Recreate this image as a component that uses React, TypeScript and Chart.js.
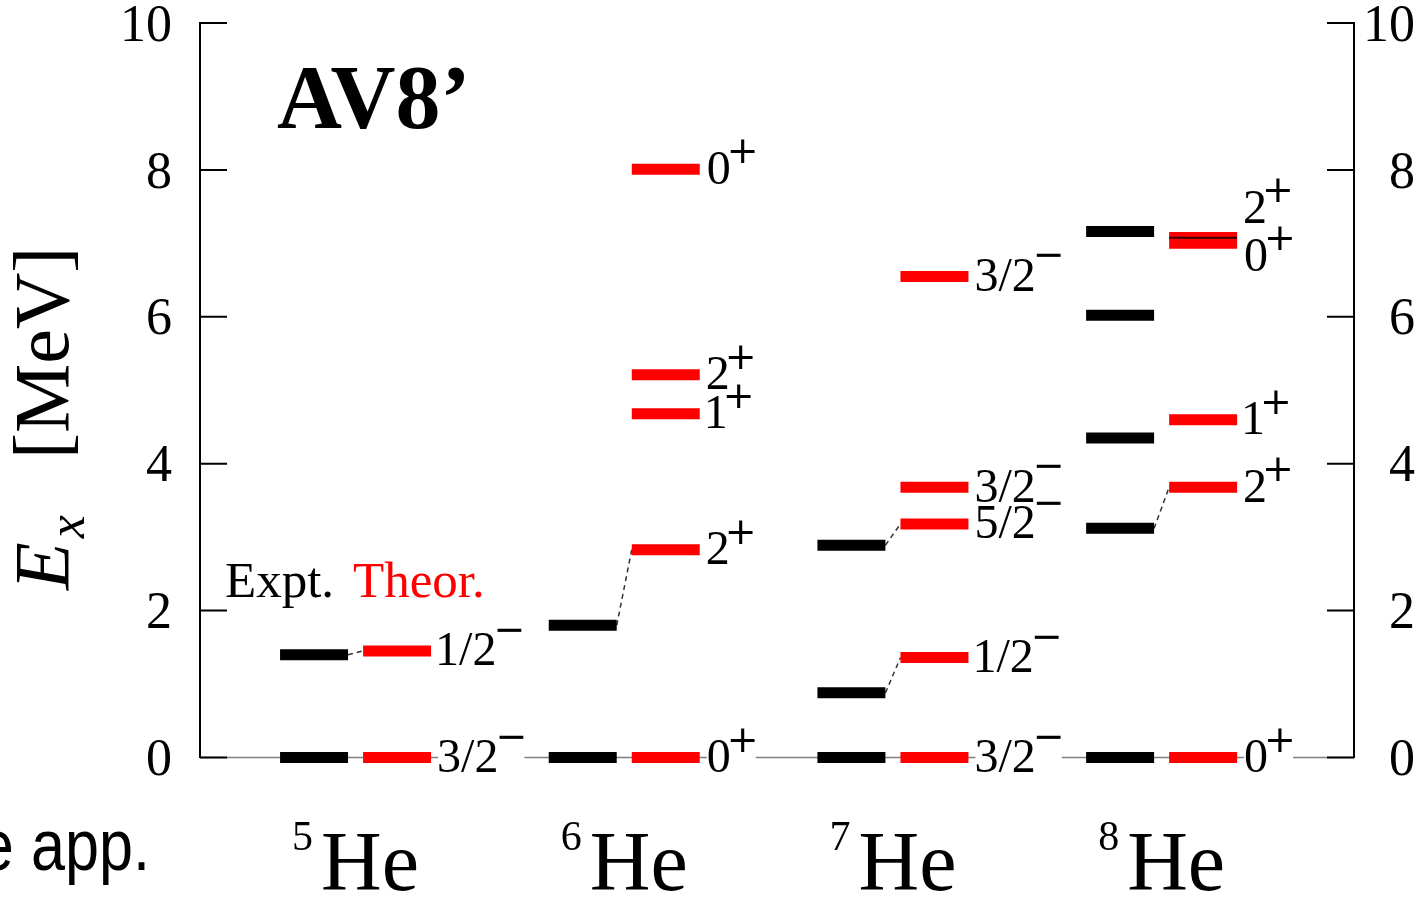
import React, { useEffect, useRef } from 'react';
import { Chart, registerables } from 'chart.js';

Chart.register(...registerables);

// Helium isotopes (mass numbers) shown left to right
const massNumbers = ['5', '6', '7', '8'];
const elementSymbol = 'He';

// Experimental excitation energies [MeV]
const exptLevels: number[][] = [
  [0, 1.4],
  [0, 1.8],
  [0, 0.88, 2.89],
  [0, 3.12, 4.35, 6.02, 7.16],
];

// Calculated (AV8') excitation energies [MeV]
const theoLevels: number[][] = [
  [0, 1.45],
  [0, 2.83, 4.68, 5.21, 8.01],
  [0, 1.36, 3.18, 3.68, 6.55],
  [0, 3.68, 4.6, 7.0, 7.08],
];

// Spin-parity assignments of the calculated levels
const theoSpins: string[][] = [
  ['3/2-', '1/2-'],
  ['0+', '2+', '1+', '2+', '0+'],
  ['3/2-', '1/2-', '5/2-', '3/2-', '3/2-'],
  ['0+', '2+', '1+', '0+', '2+'],
];

// [expt index, theo index] pairs joined by a dashed correspondence line
const links: number[][][] = [
  [[1, 1]],
  [[1, 1]],
  [[1, 1], [2, 2]],
  [[1, 1]],
];

// vertical nudge (px) of spin labels that would otherwise collide
const spinLabelShift: number[][] = [
  [0, 0],
  [0, 0, 0, 0, 0],
  [0, 0, 0, 0, 0],
  [0, 0, 0, 13, -29],
];

const yTicks = [0, 2, 4, 6, 8, 10];
const Y_MIN = 0;
const Y_MAX = 10;

// horizontal layout of one nucleus column, in column units
const EXPT_X = [0.298, 0.551];
const THEO_X = [0.607, 0.86];
const X_MAX = 4.295;
const BAR_WIDTH = 11;

const SERIF = '"Liberation Serif", "Times New Roman", serif';
const SIGN_FONT = '38px "DejaVu Sans", sans-serif';

type Pt = { x: number; y: number | null };

function levelSegments(levels: number[][], xr: number[]): Pt[] {
  const pts: Pt[] = [];
  levels.forEach((lv, i) => {
    lv.forEach((e) => {
      pts.push({ x: i + xr[0], y: e }, { x: i + xr[1], y: e }, { x: i + xr[1], y: null });
    });
  });
  return pts;
}

function linkSegments(): Pt[] {
  const pts: Pt[] = [];
  links.forEach((pairs, i) => {
    pairs.forEach(([a, b]) => {
      pts.push(
        { x: i + EXPT_X[1], y: exptLevels[i][a] },
        { x: i + THEO_X[0], y: theoLevels[i][b] },
        { x: i + THEO_X[0], y: null }
      );
    });
  });
  return pts;
}

type SpinLayout = {
  main: string;
  sign: string;
  x: number;
  base: number;
  sx: number;
  sBase: number;
  left: number;
  right: number;
  yc: number;
};

function layoutSpin(ctx: CanvasRenderingContext2D, inkLeft: number, yc: number, spin: string): SpinLayout {
  const main = spin.slice(0, -1);
  const sign = spin.endsWith('+') ? '+' : '\u2212';
  ctx.font = `48px ${SERIF}`;
  const m = ctx.measureText(main);
  const d = ctx.measureText('0');
  const x = inkLeft + m.actualBoundingBoxLeft;
  const base = yc - 1.5 + (d.actualBoundingBoxAscent - d.actualBoundingBoxDescent) / 2;
  const mainRight = x + m.actualBoundingBoxRight;

  ctx.font = SIGN_FONT;
  const s = ctx.measureText(sign);
  const gap = sign === '+' ? 1 : 3;
  const sx = mainRight + gap + s.actualBoundingBoxLeft;
  const sc = yc + (sign === '+' ? -18 : -21);
  const sBase = sc + (s.actualBoundingBoxAscent - s.actualBoundingBoxDescent) / 2;
  const right = sx + s.actualBoundingBoxRight;
  return { main, sign, x, base, sx, sBase, left: inkLeft, right, yc };
}

const levelSchemePlugin = {
  id: 'levelScheme',
  afterDatasetsDraw(chart: any) {
    const ctx: CanvasRenderingContext2D = chart.ctx;
    const xs = chart.scales.x;
    const ys = chart.scales.y;
    ctx.save();

    // seam between two nearly degenerate calculated levels
    theoLevels.forEach((lv, i) => {
      for (let a = 0; a < lv.length; a++) {
        for (let b = 0; b < lv.length; b++) {
          if (a !== b && lv[a] < lv[b] && lv[b] - lv[a] < 0.15) {
            const p = ys.getPixelForValue(lv[a]) - BAR_WIDTH / 2;
            ctx.strokeStyle = '#3a0000';
            ctx.lineWidth = 2;
            ctx.beginPath();
            ctx.moveTo(xs.getPixelForValue(i + THEO_X[0]), p);
            ctx.lineTo(xs.getPixelForValue(i + THEO_X[1]), p);
            ctx.stroke();
          }
        }
      }
    });

    // spin-parity labels of the calculated levels
    const items: SpinLayout[] = [];
    theoLevels.forEach((lv, i) => {
      const left = xs.getPixelForValue(i + THEO_X[1]) + 8;
      lv.forEach((e, k) => {
        items.push(layoutSpin(ctx, left, ys.getPixelForValue(e) + spinLabelShift[i][k], theoSpins[i][k]));
      });
    });
    // white backing so the ground-state line breaks around the text
    ctx.fillStyle = '#ffffff';
    items.forEach((it) => ctx.fillRect(it.left - 1, it.yc - 30, it.right - it.left + 2, 52));
    ctx.fillStyle = '#000000';
    ctx.textAlign = 'left';
    ctx.textBaseline = 'alphabetic';
    items.forEach((it) => {
      ctx.font = `48px ${SERIF}`;
      ctx.fillText(it.main, it.x, it.base);
      ctx.font = SIGN_FONT;
      ctx.fillText(it.sign, it.sx, it.sBase);
    });
    ctx.restore();
  },
  afterDraw(chart: any) {
    const ctx: CanvasRenderingContext2D = chart.ctx;
    const xs = chart.scales.x;
    const ys = chart.scales.y;
    const area = chart.chartArea;
    ctx.save();

    // inward tick marks on both vertical axes
    ctx.strokeStyle = '#000000';
    ctx.lineWidth = 2;
    yTicks.forEach((v) => {
      const p = ys.getPixelForValue(v);
      ctx.beginPath();
      ctx.moveTo(area.left, p);
      ctx.lineTo(area.left + 27, p);
      ctx.moveTo(area.right - 27, p);
      ctx.lineTo(area.right, p);
      ctx.stroke();
    });

    ctx.textBaseline = 'alphabetic';
    ctx.textAlign = 'left';

    // interaction name
    ctx.fillStyle = '#000000';
    ctx.font = `bold 90px ${SERIF}`;
    ctx.fillText('AV8\u2019', 277, 128);

    // legend
    ctx.font = `51px ${SERIF}`;
    ctx.fillText('Expt.', 225, 597);
    ctx.fillStyle = '#ff0000';
    ctx.fillText('Theor.', 353, 597);

    // nucleus labels under each column
    ctx.fillStyle = '#000000';
    massNumbers.forEach((a, i) => {
      const cx = xs.getPixelForValue(i + (EXPT_X[0] + THEO_X[1]) / 2);
      ctx.font = `42px ${SERIF}`;
      const wa = ctx.measureText(a).width;
      ctx.font = `84px ${SERIF}`;
      const wh = ctx.measureText(elementSymbol).width;
      const x0 = cx - (wa + 8 + wh) / 2;
      ctx.font = `42px ${SERIF}`;
      ctx.fillText(a, x0, 850);
      ctx.font = `84px ${SERIF}`;
      ctx.fillText(elementSymbol, x0 + wa + 8, 890);
    });

    // vertical axis title: E_x [MeV]
    ctx.save();
    ctx.translate(68, 590);
    ctx.rotate(-Math.PI / 2);
    ctx.font = `italic 78px ${SERIF}`;
    ctx.fillText('E', 0, 0);
    const we = ctx.measureText('E').width;
    ctx.font = `italic 52px ${SERIF}`;
    ctx.fillText('x', we + 4, 16);
    ctx.font = `78px ${SERIF}`;
    ctx.fillText('[MeV]', 131, 0);
    ctx.restore();

    // stray caption fragment at the lower left
    ctx.save();
    ctx.translate(150, 870);
    ctx.scale(0.85, 1);
    ctx.font = '72px "Liberation Sans", Arial, sans-serif';
    ctx.textAlign = 'right';
    ctx.fillStyle = '#000000';
    ctx.fillText('e app.', 0, 0);
    ctx.restore();

    ctx.restore();
  },
};

function yAxis(position: 'left' | 'right', width: number) {
  return {
    type: 'linear' as const,
    position,
    min: Y_MIN,
    max: Y_MAX,
    afterBuildTicks: (s: any) => {
      s.ticks = yTicks.map((v) => ({ value: v }));
    },
    afterFit: (s: any) => {
      s.width = width;
      s.paddingTop = 0;
      s.paddingBottom = 0;
    },
    ticks: {
      font: { family: SERIF, size: 52 },
      color: '#000000',
      padding: 28,
      crossAlign: position === 'left' ? ('near' as const) : ('far' as const),
      labelOffset: 4,
      autoSkip: false,
      callback: (v: any) => String(v),
    },
    grid: { display: false, drawTicks: false },
    border: { display: true, color: '#000000', width: 2 },
  };
}

export default function App() {
  const canvasRef = useRef<HTMLCanvasElement | null>(null);

  useEffect(() => {
    if (!canvasRef.current) return;
    const common = { pointRadius: 0, tension: 0, clip: false as const, spanGaps: false, xAxisID: 'x', yAxisID: 'y' };
    const chart = new Chart(canvasRef.current, {
      type: 'line',
      data: {
        datasets: [
          {
            ...common,
            label: 'Theor.',
            data: levelSegments(theoLevels, THEO_X) as any,
            borderColor: '#ff0000',
            borderWidth: BAR_WIDTH,
            borderCapStyle: 'butt',
            order: 0,
          },
          {
            ...common,
            label: 'Expt.',
            data: levelSegments(exptLevels, EXPT_X) as any,
            borderColor: '#000000',
            borderWidth: BAR_WIDTH,
            borderCapStyle: 'butt',
            order: 1,
          },
          {
            ...common,
            label: 'links',
            data: linkSegments() as any,
            borderColor: '#333333',
            borderWidth: 1.5,
            borderDash: [5, 4],
            order: 2,
          },
          {
            ...common,
            label: 'ground',
            data: [
              { x: 0, y: 0 },
              { x: X_MAX, y: 0 },
            ],
            borderColor: '#808080',
            borderWidth: 1.5,
            order: 3,
          },
        ],
      },
      options: {
        animation: false,
        responsive: false,
        devicePixelRatio: 1,
        events: [],
        layout: { padding: { left: 0, right: 12, top: 23, bottom: 139.5 } },
        plugins: { legend: { display: false }, tooltip: { enabled: false }, title: { display: false } },
        scales: {
          x: { type: 'linear', min: 0, max: X_MAX, display: false },
          y: yAxis('left', 200) as any,
          y2: yAxis('right', 61) as any,
        },
      },
      plugins: [levelSchemePlugin],
    });
    return () => chart.destroy();
  }, []);

  return (
    <div style={{ position: 'fixed', left: 0, top: 0, width: 1427, height: 897, background: '#ffffff' }}>
      <canvas ref={canvasRef} width={1427} height={897} style={{ display: 'block' }} />
    </div>
  );
}
